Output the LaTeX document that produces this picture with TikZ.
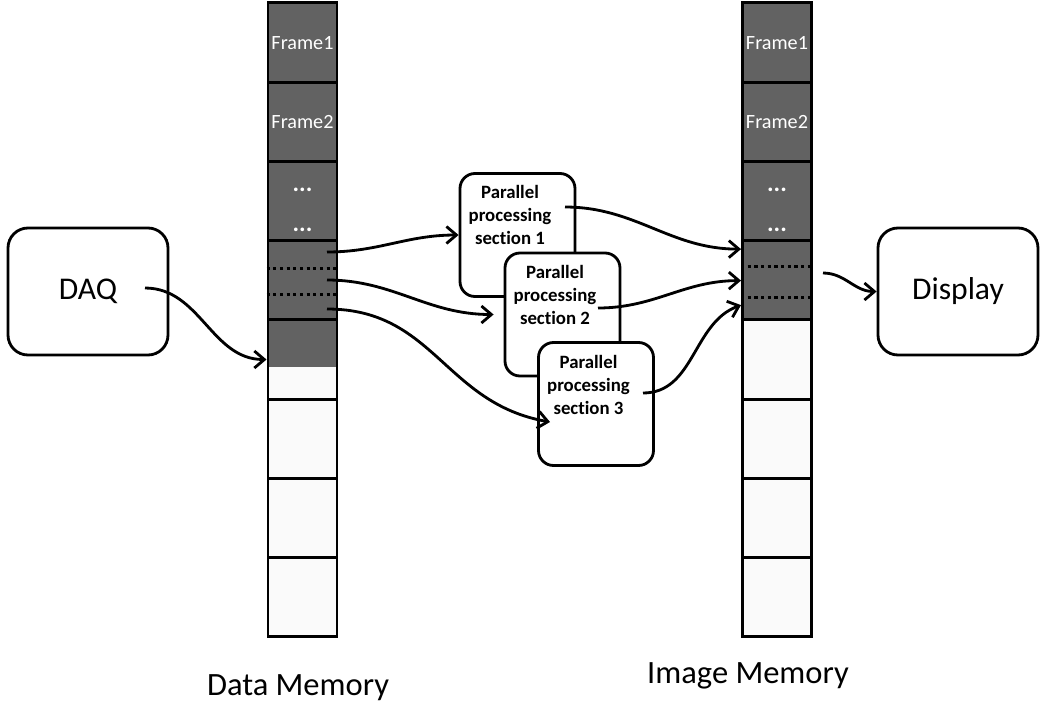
\documentclass[tikz,border=0pt]{standalone}
\usepackage{fontspec}
\setmainfont{Carlito}[Ligatures=NoCommon]
\usetikzlibrary{arrows.meta}
\definecolor{cellgray}{RGB}{98,98,98}
\definecolor{cellwhite}{RGB}{250,250,250}
\begin{document}
\begin{tikzpicture}[x=0.2mm,y=-0.2mm]
        \tikzstyle{cell}=[draw,line width=1.7pt,minimum width=13.8mm,minimum height=15.85mm,inner sep=0pt];
        \tikzstyle{usedcell}=[cell,fill=cellgray,text=white,font=\fontsize{11.5}{13}\selectfont];
        \tikzstyle{freecell}=[cell,fill=cellwhite];
        \tikzstyle{dots}=[text=white,inner sep=0pt,font=\fontsize{14}{14}\selectfont\bfseries];
        \tikzstyle{unit}=[draw,line width=1.6pt,rounded corners=4mm,minimum width=32mm,minimum height=25.4mm,font=\fontsize{18}{20}\selectfont];
        \tikzstyle{pbox}=[draw,line width=1.6pt,rounded corners=3mm,fill=white,minimum width=23mm,minimum height=24.6mm];
        \tikzstyle{ptext}=[align=center,inner sep=0pt,font=\fontsize{10.7}{13}\selectfont\bfseries];
        \tikzstyle{dotline}=[line width=1.8pt,dotted];
        \tikzstyle{flow}=[line width=1.6pt,-{Straight Barb[length=2mm,width=3.4mm]}];
        \useasboundingbox (0,0) rectangle (1050,709);
        % data memory
        \node[usedcell] (d1) at (302.5,42.6) {Frame1};
        \node[usedcell] (d2) at (302.5,122) {Frame2};
        \node[usedcell] (d3) at (302.5,201.5) {};
        \node[usedcell] (d4) at (302.5,280.6) {};
        \node[freecell,path picture={\fill[cellgray] (path picture bounding box.north west) rectangle ([yshift=-9.4mm]path picture bounding box.north east);}] (d5) at (302.5,359.5) {};
        \node[freecell] (d6) at (302.5,439) {};
        \node[freecell] (d7) at (302.5,518) {};
        \node[freecell] (d8) at (302.5,597) {};
        \node[dots] (d3a) at ([yshift=2.3mm]d3.center) {...};
        \node[dots] (d3b) at ([yshift=-5.7mm]d3.center) {...};
        \draw[dotline] ([yshift=2.5mm]d4.west) -- ([yshift=2.5mm]d4.east);
        \draw[dotline] ([yshift=-2.7mm]d4.west) -- ([yshift=-2.7mm]d4.east);
        % image memory
        \node[usedcell] (m1) at (777,42.6) {Frame1};
        \node[usedcell] (m2) at (777,122) {Frame2};
        \node[usedcell] (m3) at (777,201.5) {};
        \node[usedcell] (m4) at (777,280.6) {};
        \node[freecell] (m5) at (777,359.5) {};
        \node[freecell] (m6) at (777,439) {};
        \node[freecell] (m7) at (777,518) {};
        \node[freecell] (m8) at (777,597) {};
        \node[dots] (m3a) at ([yshift=2.3mm]m3.center) {...};
        \node[dots] (m3b) at ([yshift=-5.7mm]m3.center) {...};
        \draw[dotline] ([yshift=2.8mm]m4.west) -- ([yshift=2.8mm]m4.east);
        \draw[dotline] ([yshift=-3.3mm]m4.west) -- ([yshift=-3.3mm]m4.east);
        \node[font=\fontsize{18.5}{20}\selectfont] (dlabel) at (298,688) {Data Memory};
        \node[font=\fontsize{18.5}{20}\selectfont] (mlabel) at (748,676) {Image Memory};
        % source and sink
        \node[unit] (daq) at (88,291.5) {DAQ};
        \node[unit] (disp) at (958,291.5) {Display};
        % processing sections
        \node[pbox] (p1) at (517.5,235) {};
        \node[ptext] (t1) at ([xshift=-1.5mm,yshift=4mm]p1.center) {Parallel\\processing\\section 1};
        \node[pbox] (p2) at (562.5,314.5) {};
        \node[ptext] (t2) at ([xshift=-1.5mm,yshift=3.9mm]p2.center) {Parallel\\processing\\section 2};
        \node[pbox] (p3) at (596,404) {};
        \node[ptext] (t3) at ([xshift=-1.5mm,yshift=3.8mm]p3.center) {Parallel\\processing\\section 3};
        % arrows
        \coordinate (a1) at (327,252);
        \coordinate (a2) at (327,280);
        \coordinate (a3) at (327,309);
        \coordinate (e3) at (550,422);
        \coordinate (q1) at (565,207);
        \coordinate (q2) at (598,308);
        \coordinate (q3) at (643,393);
        \coordinate (w) at (145,288);
        \coordinate (r) at (823,273);
        \draw[flow] (w) to[out=0,in=180] (d5.west);
        \draw[flow] (a1) to[out=0,in=180] (p1.west);
        \draw[flow] (a2) to[out=0,in=180] ([xshift=-2mm]p2.west);
        \draw[flow] (a3) to[out=0,in=170,looseness=1.1] (e3);
        \draw[flow] (q1) to[out=0,in=180] ([yshift=6.3mm]m4.west);
        \draw[flow] (q2) to[out=0,in=180] (m4.west);
        \draw[flow] (q3) to[out=0,in=200] ([yshift=-4.9mm]m4.west);
        \draw[flow] (r) to[out=0,in=180] (disp.west);
\end{tikzpicture}
\end{document}
